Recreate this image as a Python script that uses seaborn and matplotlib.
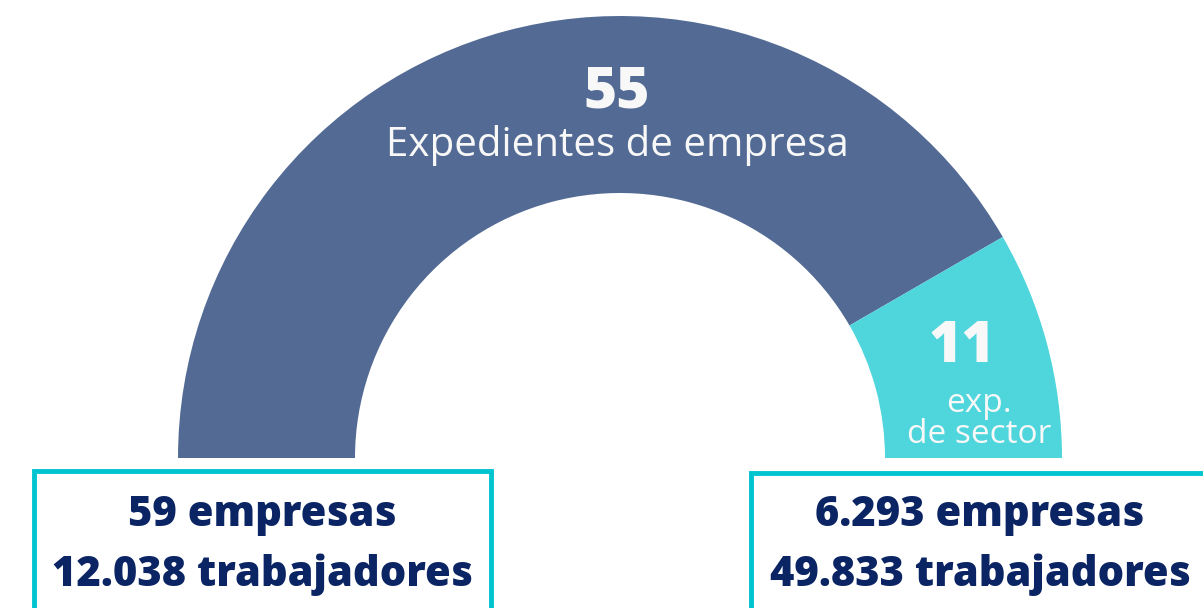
import matplotlib
matplotlib.use("Agg")
import matplotlib.pyplot as plt
import seaborn as sns
from matplotlib.patches import Rectangle

# data
segment_labels = ["Expedientes de empresa", "exp.\nde sector"]
segment_values = [55, 11]
segment_colors = ["#536b94", "#4fd5dc"]
box_lines_left = ["59 empresas", "12.038 trabajadores"]
box_lines_right = ["6.293 empresas", "49.833 trabajadores"]

sns.set_theme(style="white")
plt.rcParams["font.family"] = ["Open Sans", "DejaVu Sans"]

W, H = 1203, 608
fig = plt.figure(figsize=(W / 100, H / 100), dpi=100)
ax = fig.add_axes([0, 0, 1, 1])

# half donut: hidden slice fills the bottom half
cx, cy = 620, H - 458
values = segment_values + [sum(segment_values)]
colors = segment_colors + ["none"]
ax.pie(values, colors=colors, startangle=180, counterclock=False,
       center=(cx, cy), radius=442, frame=True,
       wedgeprops=dict(width=177, linewidth=0))
ax.set_xlim(0, W)
ax.set_ylim(0, H)
ax.set_aspect("equal")
ax.axis("off")

white = "#f8f8f8"
navy = "#0b2463"
ax.text(617, H - 93, str(segment_values[0]), ha="center", va="center",
        color=white, fontsize=41, fontweight="heavy")
ax.text(617, H - 146, segment_labels[0], ha="center", va="center",
        color=white, fontsize=29)
ax.text(962, H - 348, str(segment_values[1]), ha="center", va="center",
        color=white, fontsize=41, fontweight="heavy")
ax.text(979, H - 419, segment_labels[1], ha="center", va="center",
        color=white, fontsize=24, linespacing=0.92)

# info boxes
border = "#00c4cf"
ax.add_patch(Rectangle((33.5, -20), 457, H - 470.5 + 20, fill=False,
                       edgecolor=border, linewidth=3.5))
ax.add_patch(Rectangle((750.5, -20), 500, H - 472.5 + 20, fill=False,
                       edgecolor=border, linewidth=3.5))
for (x, lines) in [(262, box_lines_left), (980, box_lines_right)]:
    ax.text(x, H - 515, lines[0], ha="center", va="center",
            color=navy, fontsize=30, fontweight="heavy")
    ax.text(x, H - 575, lines[1], ha="center", va="center",
            color=navy, fontsize=30, fontweight="heavy")

fig.savefig("out.png", dpi=100)
